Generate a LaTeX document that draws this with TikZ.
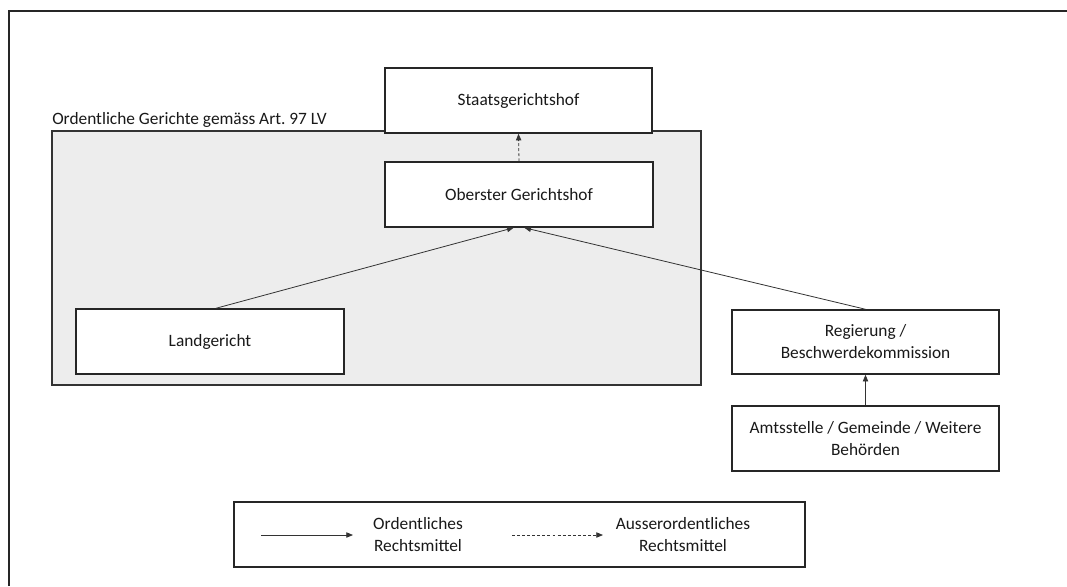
\documentclass[tikz,border=0pt]{standalone}
\usepackage{fontspec}
\setmainfont{Carlito}
\usetikzlibrary{arrows.meta}
\begin{document}
\begin{tikzpicture}[x=0.75pt,y=-0.75pt,
  font=\fontsize{13}{16.5}\selectfont,
  box/.style={draw=black!85,line width=1.1pt,fill=white,inner sep=0pt,align=center,text=black!90},
  conn/.style={draw=black!80,line width=0.6pt,-{Triangle[length=5pt,width=4pt]}},
  dconn/.style={conn,dash pattern=on 2.2pt off 1.6pt}]
\useasboundingbox (0,0) rectangle (1067,586);
\fill[white] (0,0) rectangle (1067,586);
% outer frame
\draw[black!85,line width=1.5pt] (9,586) -- (9,11) -- (1067,11);
% grey region
\draw[black!80,line width=1.1pt,fill=black!7] (52,131) rectangle (701,385);
\node[anchor=south west,inner sep=0pt,text=black!90] (lbl) at (52,128) {Ordentliche Gerichte gemäss Art.\ 97 LV};
% boxes
\node[box,minimum width=267*0.75pt,minimum height=65*0.75pt] (sgh) at (518.5,100.5) {Staatsgerichtshof};
\node[box,minimum width=268*0.75pt,minimum height=65*0.75pt] (ogh) at (519,194.5) {Oberster Gerichtshof};
\node[box,minimum width=268*0.75pt,minimum height=65*0.75pt] (lg) at (210,341.5) {Landgericht};
\node[box,minimum width=267*0.75pt,minimum height=64*0.75pt] (reg) at (865.5,342) {Regierung /\\Beschwerdekommission};
\node[box,minimum width=267*0.75pt,minimum height=65*0.75pt] (amt) at (865.5,438.5) {Amtsstelle / Gemeinde / Weitere\\Behörden};
% connectors
\draw[conn] (lg.north) ++(6,0) coordinate (lgt) -- ([xshift=-4]ogh.south);
\draw[conn] (reg.north) -- ([xshift=4]ogh.south);
\draw[conn] (amt.north) -- (reg.south);
\draw[dconn] (ogh.north) -- (sgh.south);
% legend
\node[box,minimum width=571*0.75pt,minimum height=65*0.75pt] (leg) at (519.5,534.5) {};
\coordinate (l1a) at (261,535);
\coordinate (l1b) at (353,535);
\coordinate (l2a) at (512,535);
\coordinate (l2b) at (603,535);
\draw[conn] (l1a) -- (l1b);
\draw[dconn] (l2a) -- (l2b);
\node[align=center,inner sep=0pt,text=black!90] (t1) at (418,535) {Ordentliches\\Rechtsmittel};
\node[align=center,inner sep=0pt,text=black!90] (t2) at (683,535) {Ausserordentliches\\Rechtsmittel};
\end{tikzpicture}
\end{document}
